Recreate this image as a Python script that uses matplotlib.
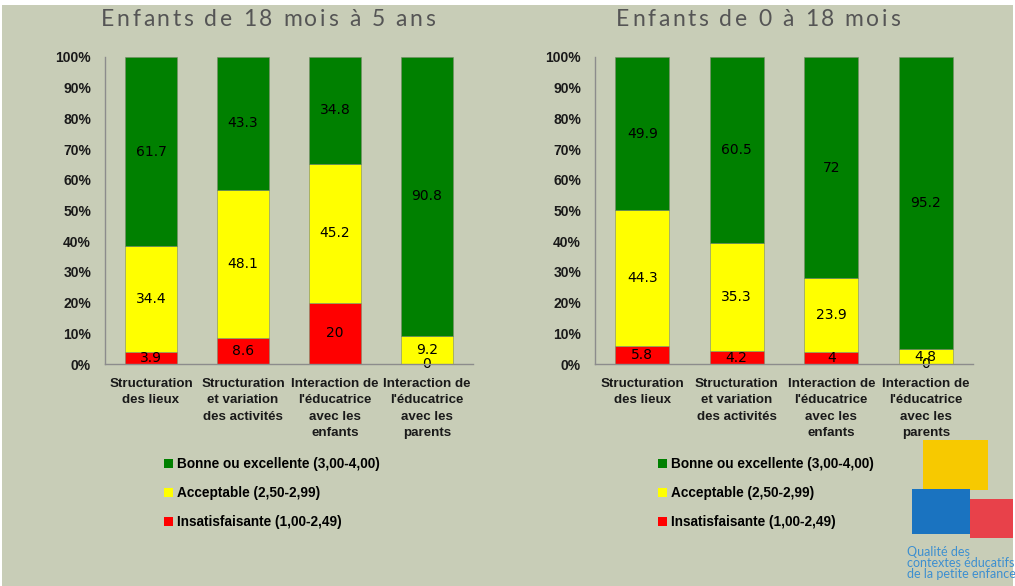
import matplotlib
matplotlib.use("Agg")
import matplotlib.pyplot as plt
from matplotlib.patches import Rectangle, Patch
import numpy as np

categories = ["Structuration\ndes lieux",
              "Structuration\net variation\ndes activités",
              "Interaction de\nl'éducatrice\navec les\nenfants",
              "Interaction de\nl'éducatrice\navec les\nparents"]
series_names = ["Bonne ou excellente (3,00-4,00)",
                "Acceptable (2,50-2,99)",
                "Insatisfaisante (1,00-2,49)"]

# left panel: 18 mois - 5 ans
left_title = "Enfants de 18 mois à 5 ans"
left_insat = [3.9, 8.6, 20, 0]
left_accept = [34.4, 48.1, 45.2, 9.2]
left_bonne = [61.7, 43.3, 34.8, 90.8]

# right panel: 0 - 18 mois
right_title = "Enfants de 0 à 18 mois"
right_insat = [5.8, 4.2, 4, 0]
right_accept = [44.3, 35.3, 23.9, 4.8]
right_bonne = [49.9, 60.5, 72, 95.2]

BG = "#C8CDB7"
GREEN = "#008000"
YELLOW = "#FFFF00"
RED = "#FF0000"
AXIS = "#8C8C8C"
TXT = "#1A1A1A"
FONT = "Liberation Sans"

fig = plt.figure(figsize=(10.15, 5.86), dpi=100)
fig.patch.set_facecolor("white")
fig.patches.append(Rectangle((2 / 1015, 0), 1011 / 1015, 581 / 586,
                             transform=fig.transFigure, facecolor=BG,
                             edgecolor="none", zorder=-10))
renderer = fig.canvas.get_renderer()


def spaced_title(s, cx, cy, spacing=2.6, **kw):
    # letter-spaced title, drawn char by char (px coords)
    def width(t):
        tmp = fig.text(0, 0, t + "x", **kw)
        w = tmp.get_window_extent(renderer).width
        tmp.remove()
        return w
    wx = width("")
    offs = [width(s[:i]) - wx + i * spacing for i in range(len(s))]
    total = width(s) - wx + (len(s) - 1) * spacing
    x0 = cx - total / 2
    for ch, o in zip(s, offs):
        if ch != " ":
            fig.text((x0 + o) / 1015, 1 - cy / 586, ch, ha="left",
                     va="center", **kw)


def draw_panel(rect, title, title_x, insat, accept, bonne, legend_x):
    ax = fig.add_axes(rect)
    ax.set_facecolor("none")
    x = np.arange(len(categories))
    w = 0.575
    stacks = [(insat, RED), (accept, YELLOW), (bonne, GREEN)]
    bottom = np.zeros(len(x))
    for vals, col in stacks:
        vals = np.array(vals, dtype=float)
        ax.bar(x, vals, w, bottom=bottom, color=col,
               edgecolor="#7a8a6a", linewidth=0.4, zorder=2)
        for xi, b, v in zip(x, bottom, vals):
            ax.text(xi, b + v / 2, "{:g}".format(v), ha="center",
                    va="center", fontsize=10, color="black",
                    family="DejaVu Sans", zorder=3)
        bottom += vals
    ax.set_xlim(-0.5, len(x) - 0.5)
    ax.set_ylim(0, 100)
    ax.set_yticks(np.arange(0, 101, 10))
    ax.set_yticklabels(["{}%".format(v) for v in range(0, 101, 10)],
                       fontsize=10, fontweight="bold", family=FONT, color=TXT)
    ax.set_xticks(x)
    ax.set_xticklabels(categories, fontsize=9.6, fontweight="bold",
                       family=FONT, color=TXT, linespacing=1.5)
    ax.tick_params(length=0, axis="y", pad=10)
    ax.tick_params(length=0, axis="x", pad=10)
    for s in ["top", "right"]:
        ax.spines[s].set_visible(False)
    for s in ["left", "bottom"]:
        ax.spines[s].set_color(AXIS)
        ax.spines[s].set_linewidth(1.0)
    ax.spines["bottom"].set_zorder(4)
    spaced_title(title, title_x, 19, fontsize=16.5, color="#555555",
                 family="Lato")
    handles = [Patch(facecolor=GREEN), Patch(facecolor=YELLOW),
               Patch(facecolor=RED)]
    fig.legend(handles, series_names, loc="upper left",
               bbox_to_anchor=(legend_x, 1 - 457 / 586), frameon=False,
               handlelength=0.65, handleheight=0.65, handletextpad=0.3,
               labelspacing=1.1, borderaxespad=0, borderpad=0,
               prop={"family": FONT, "weight": "bold", "size": 9.8})
    return ax


draw_panel([105 / 1015, 222 / 586, 368 / 1015, 307 / 586], left_title,
           268, left_insat, left_accept, left_bonne, 164 / 1015)
draw_panel([595 / 1015, 222 / 586, 378 / 1015, 307 / 586], right_title,
           758, right_insat, right_accept, right_bonne, 658 / 1015)

# logo (approximation)
def fig_rect(x0, y0, x1, y1, color):
    fig.patches.append(Rectangle((x0 / 1015, 1 - y1 / 586),
                                 (x1 - x0) / 1015, (y1 - y0) / 586,
                                 transform=fig.transFigure, facecolor=color,
                                 edgecolor="none", zorder=1))


fig_rect(923, 440, 988, 490, "#F7C900")
fig_rect(912, 489, 970, 534, "#1A73C0")
fig_rect(970, 499, 1013, 538, "#E8414A")
fig.text(907 / 1015, 1 - 563 / 586,
         "Qualité des\ncontextes éducatifs\nde la petite enfance",
         ha="left", va="center", fontsize=9, color="#3D8FD0",
         family="Lato", linespacing=0.95)

fig.savefig("out.png", dpi=100, facecolor=fig.get_facecolor())
